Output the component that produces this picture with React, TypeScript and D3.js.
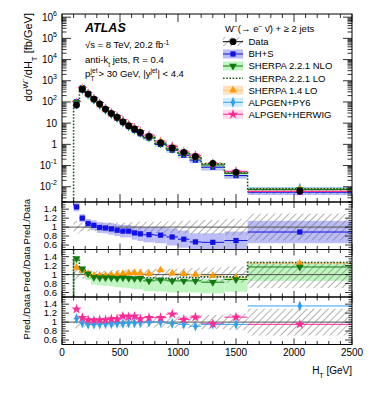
import React from "react";
import * as d3 from "d3";

// H_T bin edges [GeV]
const binEdges = [100, 150, 200, 250, 300, 350, 400, 450, 500, 550, 600, 650, 700, 800, 900, 1000, 1100, 1200, 1400, 1600, 2500];
// measured cross section [fb/GeV] and relative uncertainty
const dataXsec = [71, 390, 236, 137, 80, 46, 29, 19, 11.6, 7.6, 5.3, 3.7, 2.4, 1.2, 0.68, 0.42, 0.27, 0.127, 0.048, 0.0063];
const dataUnc = [0.14, 0.1, 0.09, 0.09, 0.09, 0.09, 0.1, 0.1, 0.1, 0.11, 0.11, 0.12, 0.12, 0.13, 0.13, 0.14, 0.15, 0.16, 0.18, 0.3];
// predictions / data
const bhsRatio = [1.45, 1.2, 1.08, 1.04, 0.99, 0.98, 0.96, 0.93, 0.91, 0.91, 0.87, 0.85, 0.83, 0.82, 0.78, 0.73, 0.67, 0.66, 0.7, 0.89];
const bhsUnc = [0.1, 0.09, 0.1, 0.11, 0.12, 0.12, 0.13, 0.13, 0.14, 0.14, 0.15, 0.16, 0.17, 0.18, 0.19, 0.19, 0.19, 0.2, 0.2, 0.25];
const nloRatio = [1.36, 1.13, 1.02, 0.94, 0.93, 0.93, 0.93, 0.92, 0.93, 0.92, 0.91, 0.92, 0.86, 0.88, 0.86, 0.86, 0.86, 0.83, 0.89, 1.17];
const nloLo = [1.25, 1.02, 0.88, 0.78, 0.76, 0.75, 0.74, 0.72, 0.71, 0.7, 0.68, 0.67, 0.63, 0.62, 0.6, 0.6, 0.6, 0.58, 0.62, 0.86];
const nloHi = [1.4, 1.18, 1.05, 0.97, 0.96, 0.96, 0.96, 0.95, 0.95, 0.95, 0.94, 0.94, 0.92, 0.91, 0.9, 0.9, 0.9, 0.9, 0.93, 1.26];
const loRatio = [1.32, 1.12, 1.0, 0.96, 0.95, 0.95, 0.95, 0.95, 0.95, 0.95, 0.94, 0.95, 0.93, 0.92, 0.91, 0.94, 0.93, 0.95, 0.95, 1.27];
const sh14Ratio = [1.16, 1.09, 1.02, 0.98, 0.98, 0.98, 0.99, 1.0, 1.02, 1.03, 1.04, 1.03, 1.02, 1.1, 1.03, 1.02, 1.0, 0.98, 0.93, 1.25];
const py6Ratio = [1.08, 0.98, 0.95, 0.95, 0.95, 0.96, 0.96, 0.97, 0.97, 0.98, 0.98, 0.99, 1.0, 1.0, 0.97, 0.95, 0.91, 0.95, 0.95, 1.36];
const hwRatio = [1.29, 1.1, 1.05, 1.04, 1.05, 1.05, 1.07, 1.07, 1.13, 1.12, 1.13, 1.07, 1.1, 1.1, 1.18, 1.06, 1.11, 0.96, 1.11, 0.95];

const xTicks = [0, 500, 1000, 1500, 2000, 2500];
const ratioTicks = [0.6, 0.8, 1, 1.2, 1.4];
const logTicks = [-2, -1, 0, 1, 2, 3, 4, 5, 6];

const C = {
  bhs: "#1010e8", bhsBand: "#bcbcf6",
  nlo: "#117a11", nloBand: "#bff5bf",
  lo: "#1d5a1d",
  sh14: "#ff9a00", sh14Line: "#ffc27a",
  py6: "#2ea0f0",
  hw: "#ff2a96",
};

const FONT = "'Liberation Sans', Arial, Helvetica, sans-serif";
const L = 62, R = 352;
const mainTop = 14, mainBot = 202;
const panels: [number, number][] = [[202, 249.5], [249.5, 297], [297, 344.5]];

const x = d3.scaleLinear().domain([0, 2500]).range([L, R]);
const yMain = d3.scaleLog().domain([Math.pow(10, -2.72), Math.pow(10, 6.15)]).range([mainBot, mainTop]);
const yRatio = (p: number) => d3.scaleLinear().domain([0.5, 1.56]).range([panels[p][1], panels[p][0]]);

const nb = dataXsec.length;
const bins = d3.range(nb).map((i) => ({ i, x0: x(binEdges[i]), x1: x(binEdges[i + 1]), xc: x((binEdges[i] + binEdges[i + 1]) / 2) }));

const sym = (type: d3.SymbolType, size: number) => d3.symbol().type(type).size(size)() as string;

function Marker({ kind, cx, cy, color }: { kind: string; cx: number; cy: number; color: string }) {
  if (kind === "square") return <rect x={cx - 2.6} y={cy - 2.6} width={5.2} height={5.2} fill={color} />;
  if (kind === "down") return <path d={sym(d3.symbolTriangle, 26)} transform={`translate(${cx},${cy}) rotate(180)`} fill={color} />;
  if (kind === "up") return <path d={sym(d3.symbolTriangle, 26)} transform={`translate(${cx},${cy})`} fill={color} />;
  if (kind === "diamond") return <path d={sym(d3.symbolDiamond, 26)} transform={`translate(${cx},${cy}) scale(0.8,1.15)`} fill={color} />;
  if (kind === "star") return <path d={sym(d3.symbolStar, 32)} transform={`translate(${cx},${cy})`} fill={color} />;
  return <circle cx={cx} cy={cy} r={3.4} fill={color} />;
}

function Ticks({ top, bot, ticks, minors, yScale, isMain }: any) {
  const out: any[] = [];
  const xMaj = isMain ? 8 : 6, xMin = isMain ? 4 : 3.5;
  d3.range(0, 2501, 100).forEach((v) => {
    const len = v % 500 === 0 ? xMaj : xMin;
    const px = x(v);
    out.push(<line key={`xb${v}`} x1={px} x2={px} y1={bot} y2={bot - len} />);
    out.push(<line key={`xt${v}`} x1={px} x2={px} y1={top} y2={top + len} />);
  });
  const yMaj = isMain ? 9 : 7, yMin = isMain ? 4.5 : 3.5;
  ticks.forEach((v: number, k: number) => {
    const py = yScale(v);
    out.push(<line key={`yl${k}`} x1={L} x2={L + yMaj} y1={py} y2={py} />);
    out.push(<line key={`yr${k}`} x1={R} x2={R - yMaj} y1={py} y2={py} />);
  });
  minors.forEach((v: number, k: number) => {
    const py = yScale(v);
    out.push(<line key={`ml${k}`} x1={L} x2={L + yMin} y1={py} y2={py} />);
    out.push(<line key={`mr${k}`} x1={R} x2={R - yMin} y1={py} y2={py} />);
  });
  return <g stroke="#000" strokeWidth={0.8}>{out}</g>;
}

function stepPath(vals: number[], ys: (v: number) => number, startY: number) {
  let d = `M${x(binEdges[0])},${startY}`;
  vals.forEach((v, i) => {
    d += `V${ys(v)}H${x(binEdges[i + 1])}`;
  });
  return d;
}

function BinLines({ vals, ys, color, w = 1.2, dash }: any) {
  return (
    <g stroke={color} strokeWidth={w} strokeDasharray={dash}>
      {bins.map((b) => <line key={b.i} x1={b.x0} x2={b.x1} y1={ys(vals[b.i])} y2={ys(vals[b.i])} />)}
    </g>
  );
}

function Markers({ vals, ys, kind, color }: any) {
  return <g>{bins.map((b) => <Marker key={b.i} kind={kind} cx={b.xc} cy={ys(vals[b.i])} color={color} />)}</g>;
}

function Band({ lo, hi, ys, fill }: any) {
  return <g fill={fill}>{bins.map((b) => {
    const a = ys(hi[b.i]), c = ys(lo[b.i]);
    return <rect key={b.i} x={b.x0} width={b.x1 - b.x0} y={Math.min(a, c)} height={Math.abs(c - a)} />;
  })}</g>;
}

function Sup({ children }: any) {
  return <tspan fontSize="70%" baselineShift="super">{children}</tspan>;
}
function Sub({ children }: any) {
  return <tspan fontSize="70%" baselineShift="sub">{children}</tspan>;
}

export default function App() {
  const logMinors: number[] = [];
  for (let k = -3; k <= 6; k++) for (let m = 2; m <= 9; m++) {
    const v = m * Math.pow(10, k);
    if (v > yMain.domain()[0] && v < yMain.domain()[1]) logMinors.push(v);
  }
  const rMinors = d3.range(0.5, 1.56, 0.05).map((v) => +v.toFixed(2)).filter((v) => Math.abs(v * 5 - Math.round(v * 5)) > 1e-6);

  const pred = (r: number[]) => r.map((v, i) => v * dataXsec[i]);
  const dLo = dataXsec.map((v, i) => v * (1 - dataUnc[i]));
  const dHi = dataXsec.map((v, i) => v * (1 + dataUnc[i]));
  const uLo = dataUnc.map((u) => 1 - u);
  const uHi = dataUnc.map((u) => 1 + u);

  const legendRows = [
    { label: "Data", y: 41.7 },
    { label: "BH+S", y: 54 },
    { label: "SHERPA 2.2.1 NLO", y: 66 },
    { label: "SHERPA 2.2.1 LO", y: 78.3 },
    { label: "SHERPA 1.4 LO", y: 90.2 },
    { label: "ALPGEN+PY6", y: 102.3 },
    { label: "ALPGEN+HERWIG", y: 114.3 },
  ];
  const lx0 = 223, lx1 = 243, lxc = 233;

  return (
    <svg width={374} height={396} style={{ position: "absolute", left: 0, top: 0, background: "#fff" }} fontFamily={FONT}>
      <defs>
        <pattern id="hatch" width={5} height={5} patternUnits="userSpaceOnUse" patternTransform="rotate(45)">
          <line x1={0} y1={0} x2={0} y2={5} stroke="#666" strokeWidth={1} />
        </pattern>
        <clipPath id="cMain"><rect x={L} y={mainTop} width={R - L} height={mainBot - mainTop} /></clipPath>
        {panels.map((p, k) => <clipPath key={k} id={`cR${k}`}><rect x={L} y={p[0]} width={R - L} height={p[1] - p[0]} /></clipPath>)}
      </defs>

      {/* main panel */}
      <g clipPath="url(#cMain)">
        <Band lo={pred(bhsRatio.map((v, i) => v - bhsUnc[i]))} hi={pred(bhsRatio.map((v, i) => v + bhsUnc[i]))} ys={yMain} fill={C.bhsBand} />
        <Band lo={pred(nloLo)} hi={pred(nloHi)} ys={yMain} fill={C.nloBand} />
        <Band lo={dLo} hi={dHi} ys={yMain} fill="url(#hatch)" />
        <BinLines vals={pred(bhsRatio)} ys={yMain} color={C.bhs} />
        <BinLines vals={pred(hwRatio)} ys={yMain} color={C.hw} />
        <BinLines vals={pred(py6Ratio)} ys={yMain} color={C.py6} />
        <BinLines vals={pred(sh14Ratio)} ys={yMain} color={C.sh14Line} />
        <BinLines vals={pred(nloRatio)} ys={yMain} color={C.nlo} w={1} />
        <path d={stepPath(pred(loRatio), yMain, mainBot)} fill="none" stroke={C.lo} strokeWidth={1.6} strokeDasharray="1.6,1.6" />
        <Markers vals={pred(bhsRatio)} ys={yMain} kind="square" color={C.bhs} />
        <Markers vals={pred(hwRatio)} ys={yMain} kind="star" color={C.hw} />
        <Markers vals={pred(py6Ratio)} ys={yMain} kind="diamond" color={C.py6} />
        <Markers vals={pred(sh14Ratio)} ys={yMain} kind="up" color={C.sh14} />
        <Markers vals={pred(nloRatio)} ys={yMain} kind="down" color={C.nlo} />
        <g stroke="#000" strokeWidth={1}>
          {bins.map((b) => <line key={b.i} x1={b.xc} x2={b.xc} y1={yMain(dLo[b.i])} y2={yMain(dHi[b.i])} />)}
        </g>
        <Markers vals={dataXsec} ys={yMain} kind="circle" color="#000" />
      </g>
      <rect x={L} y={mainTop} width={R - L} height={mainBot - mainTop} fill="none" stroke="#000" strokeWidth={1} />
      <Ticks top={mainTop} bot={mainBot} ticks={logTicks.map((k) => Math.pow(10, k))} minors={logMinors} yScale={yMain} isMain />
      <g fontSize={10} textAnchor="end">
        {logTicks.map((k) => {
          const py = yMain(Math.pow(10, k)) + 3.5;
          if (k === 0) return <text key={k} x={57} y={py}>1</text>;
          if (k === 1) return <text key={k} x={57} y={py}>10</text>;
          return <text key={k} x={57} y={py}>10<tspan fontSize={7} dy={-5}>{k}</tspan></text>;
        })}
      </g>
      <text transform="translate(31.5,13) rotate(-90)" textAnchor="end" fontSize={11}>
        dσ<Sup>W⁻</Sup>/dH<Sub>T</Sub> [fb/GeV]
      </text>

      {/* labels */}
      <text x={85} y={32} fontSize={12.5} fontWeight="bold" fontStyle="italic">ATLAS</text>
      <text x={85} y={48} fontSize={9.5}>√s = 8 TeV, 20.2 fb<Sup>-1</Sup></text>
      <text x={85} y={62.5} fontSize={9.5}>anti-k<Sub>t</Sub> jets, R = 0.4</text>
      <g fontSize={9.5}>
        <text x={85} y={77}>p</text>
        <text x={90.6} y={72.5} fontSize={6.5}>jet</text>
        <text x={90.6} y={80.5} fontSize={6.5}>T</text>
        <text x={98.5} y={77}>&gt; 30 GeV, |y<tspan fontSize={6.5} dy={-4.5}>jet</tspan><tspan dy={4.5}>| &lt; 4.4</tspan></text>
      </g>

      {/* legend */}
      <text x={225} y={31.7} fontSize={9.5}>W<Sup>−</Sup>(→ e<Sup>−</Sup> ν̄) + ≥ 2 jets</text>
      <g fontSize={9.5}>
        {legendRows.map((r) => <text key={r.label} x={248.5} y={r.y + 3.4}>{r.label}</text>)}
      </g>
      <g>
        <rect x={lx0} y={41.7 - 4.5} width={20} height={9} fill="url(#hatch)" />
        <line x1={lx0} x2={lx1} y1={41.7} y2={41.7} stroke="#000" />
        <circle cx={lxc} cy={41.7} r={3.4} />
        <rect x={lx0} y={54 - 4.5} width={20} height={9} fill={C.bhsBand} />
        <line x1={lx0} x2={lx1} y1={54} y2={54} stroke={C.bhs} />
        <Marker kind="square" cx={lxc} cy={54} color={C.bhs} />
        <rect x={lx0} y={66 - 4.5} width={20} height={9} fill={C.nloBand} />
        <line x1={lx0} x2={lx1} y1={66} y2={66} stroke={C.nlo} />
        <Marker kind="down" cx={lxc} cy={66} color={C.nlo} />
        <line x1={lx0} x2={lx1} y1={78.3} y2={78.3} stroke={C.lo} strokeWidth={1.6} strokeDasharray="1.6,1.6" />
        <rect x={lx0} y={90.2 - 4.5} width={20} height={9} fill="#ffe2bd" />
        <line x1={lx0} x2={lx1} y1={90.2} y2={90.2} stroke={C.sh14Line} />
        <Marker kind="up" cx={lxc} cy={90.2} color={C.sh14} />
        <rect x={lx0} y={102.3 - 4.5} width={20} height={9} fill="#d3ecfc" />
        <line x1={lx0} x2={lx1} y1={102.3} y2={102.3} stroke={C.py6} />
        <Marker kind="diamond" cx={lxc} cy={102.3} color={C.py6} />
        <rect x={lx0} y={114.3 - 4.5} width={20} height={9} fill="#ffd8ec" />
        <line x1={lx0} x2={lx1} y1={114.3} y2={114.3} stroke={C.hw} />
        <Marker kind="star" cx={lxc} cy={114.3} color={C.hw} />
      </g>

      {/* ratio panels */}
      {panels.map((p, k) => {
        const ys = yRatio(k);
        return (
          <g key={k}>
            <g clipPath={`url(#cR${k})`}>
              {k === 0 && <Band lo={bhsRatio.map((v, i) => v - bhsUnc[i])} hi={bhsRatio.map((v, i) => v + bhsUnc[i])} ys={ys} fill={C.bhsBand} />}
              {k === 1 && <Band lo={nloLo} hi={nloHi} ys={ys} fill={C.nloBand} />}
              <Band lo={uLo} hi={uHi} ys={ys} fill="url(#hatch)" />
              <line x1={L} x2={R} y1={ys(1)} y2={ys(1)} stroke="#555" strokeWidth={1} />
              {k === 0 && <>
                <BinLines vals={bhsRatio} ys={ys} color={C.bhs} w={1} />
                <Markers vals={bhsRatio} ys={ys} kind="square" color={C.bhs} />
              </>}
              {k === 1 && <>
                <BinLines vals={sh14Ratio} ys={ys} color={C.sh14Line} w={1} />
                <BinLines vals={nloRatio} ys={ys} color={C.nlo} w={1} />
                <path d={stepPath(loRatio, ys, p[1])} fill="none" stroke={C.lo} strokeWidth={1.6} strokeDasharray="1.6,1.6" />
                <line x1={x(100)} x2={x(100)} y1={p[0]} y2={p[1]} stroke={C.lo} strokeWidth={1.6} strokeDasharray="1.6,1.6" />
                <Markers vals={sh14Ratio} ys={ys} kind="up" color={C.sh14} />
                <Markers vals={nloRatio} ys={ys} kind="down" color={C.nlo} />
              </>}
              {k === 2 && <>
                <BinLines vals={hwRatio} ys={ys} color={C.hw} w={1} />
                <BinLines vals={py6Ratio} ys={ys} color={C.py6} w={1} />
                <Markers vals={py6Ratio} ys={ys} kind="diamond" color={C.py6} />
                <Markers vals={hwRatio} ys={ys} kind="star" color={C.hw} />
              </>}
            </g>
            <rect x={L} y={p[0]} width={R - L} height={p[1] - p[0]} fill="none" stroke="#000" strokeWidth={1} />
            <Ticks top={p[0]} bot={p[1]} ticks={ratioTicks} minors={rMinors} yScale={ys} />
            <g fontSize={9.5} textAnchor="end">
              {ratioTicks.map((v) => <text key={v} x={57} y={ys(v) + 3.3}>{v === 1 ? "1" : v.toFixed(1)}</text>)}
            </g>
            <text transform={`translate(29.5,${(p[0] + p[1]) / 2 - 4}) rotate(-90)`} textAnchor="middle" fontSize={9.5}>Pred./Data</text>
          </g>
        );
      })}

      {/* x axis labels */}
      <g fontSize={10} textAnchor="middle">
        {xTicks.map((v) => <text key={v} x={x(v)} y={356}>{v}</text>)}
      </g>
      <text x={R} y={374} fontSize={10} textAnchor="end">H<Sub>T</Sub> [GeV]</text>
    </svg>
  );
}
